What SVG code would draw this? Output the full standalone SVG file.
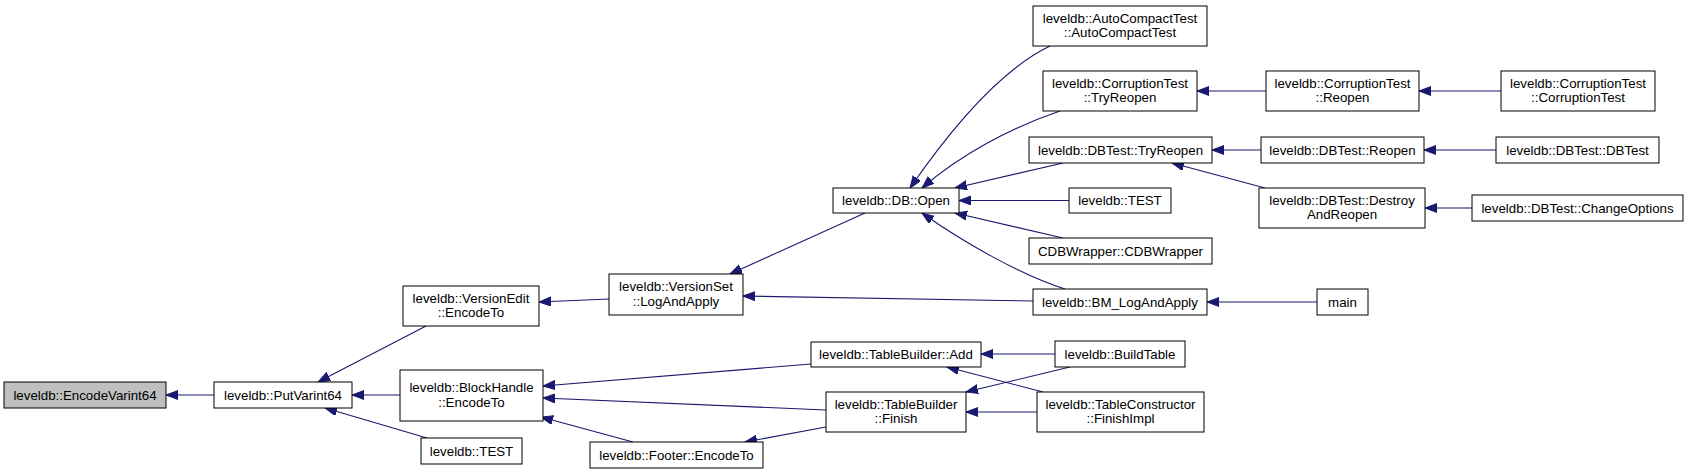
<svg xmlns="http://www.w3.org/2000/svg" width="1688" height="474" viewBox="0 0 1688 474">
<style>
.n rect{fill:#ffffff;stroke:#000000;stroke-width:1}
.n.root rect{fill:#bfbfbf}
.n text{font-family:"Liberation Sans",Arial,sans-serif;font-size:13.3px;fill:#000000;text-anchor:middle}
.e path{fill:none;stroke:#191970;stroke-width:1.1}
</style>
<defs>
<marker id="ah" markerUnits="userSpaceOnUse" markerWidth="13" markerHeight="10" refX="12" refY="4.5" orient="auto">
<path d="M0,0 L12,4.5 L0,9 z" fill="#191970" stroke="#191970" stroke-width="1"/>
</marker>
</defs>
<rect width="1688" height="474" fill="#ffffff"/>
<g id="connectors" class="e">
<path marker-end="url(#ah)" d="M214,395 L166,395"/>
<path marker-end="url(#ah)" d="M426,326 L318,382"/>
<path marker-end="url(#ah)" d="M400,395 L352,395"/>
<path marker-end="url(#ah)" d="M427,438 L325,408"/>
<path marker-end="url(#ah)" d="M609,299 L539,302"/>
<path marker-end="url(#ah)" d="M865,213 L730,274"/>
<path marker-end="url(#ah)" d="M1033,301 L743,296"/>
<path marker-end="url(#ah)" d="M1050,46 C1000,70 950,130 910,188"/>
<path marker-end="url(#ah)" d="M1060,111 C1010,128 960,155 922,188"/>
<path marker-end="url(#ah)" d="M1063,163 L955,188"/>
<path marker-end="url(#ah)" d="M1069,200.5 L959,200.5"/>
<path marker-end="url(#ah)" d="M1063,238 L955,213"/>
<path marker-end="url(#ah)" d="M1065,289 C1020,275 960,240 922,213"/>
<path marker-end="url(#ah)" d="M1266,91 L1197,91"/>
<path marker-end="url(#ah)" d="M1501,91 L1419,91"/>
<path marker-end="url(#ah)" d="M1261,150 L1212,150"/>
<path marker-end="url(#ah)" d="M1265,188 L1172,163"/>
<path marker-end="url(#ah)" d="M1496,150 L1424,150"/>
<path marker-end="url(#ah)" d="M1472,208 L1425,208"/>
<path marker-end="url(#ah)" d="M1317,302 L1207,302"/>
<path marker-end="url(#ah)" d="M811,364 L543,386"/>
<path marker-end="url(#ah)" d="M826,410 L543,398"/>
<path marker-end="url(#ah)" d="M633,442 L541,417"/>
<path marker-end="url(#ah)" d="M826,427 L745,442"/>
<path marker-end="url(#ah)" d="M1055,354 L981,354"/>
<path marker-end="url(#ah)" d="M1043,392 L947,367"/>
<path marker-end="url(#ah)" d="M1070,367 L966,392"/>
<path marker-end="url(#ah)" d="M1037,412 L966,412"/>
</g>
<g id="n_encodevarint64" class="n root"><rect x="4" y="382" width="162" height="26"/><text x="85" y="399.5">leveldb::EncodeVarint64</text></g>
<g id="n_putvarint64" class="n"><rect x="214" y="382" width="138" height="26"/><text x="283" y="399.5">leveldb::PutVarint64</text></g>
<g id="n_versionedit" class="n"><rect x="403" y="286" width="136" height="40"/><text x="471" y="302.5">leveldb::VersionEdit</text><text x="471" y="317">::EncodeTo</text></g>
<g id="n_blockhandle" class="n"><rect x="400" y="370" width="143" height="51"/><text x="471.5" y="392">leveldb::BlockHandle</text><text x="471.5" y="406.5">::EncodeTo</text></g>
<g id="n_test1" class="n"><rect x="421" y="438" width="101" height="26"/><text x="471.5" y="455.5">leveldb::TEST</text></g>
<g id="n_logandapply" class="n"><rect x="609" y="274" width="134" height="41"/><text x="676" y="291">leveldb::VersionSet</text><text x="676" y="305.5">::LogAndApply</text></g>
<g id="n_footer" class="n"><rect x="590" y="442" width="173" height="26"/><text x="676.5" y="459.5">leveldb::Footer::EncodeTo</text></g>
<g id="n_dbopen" class="n"><rect x="833" y="188" width="126" height="25"/><text x="896" y="205">leveldb::DB::Open</text></g>
<g id="n_add" class="n"><rect x="811" y="342" width="170" height="25"/><text x="896" y="359">leveldb::TableBuilder::Add</text></g>
<g id="n_finish" class="n"><rect x="826" y="392" width="140" height="40"/><text x="896" y="408.5">leveldb::TableBuilder</text><text x="896" y="423">::Finish</text></g>
<g id="n_autocompact" class="n"><rect x="1033" y="6" width="174" height="40"/><text x="1120" y="22.5">leveldb::AutoCompactTest</text><text x="1120" y="37">::AutoCompactTest</text></g>
<g id="n_ct_tryreopen" class="n"><rect x="1043" y="71" width="154" height="40"/><text x="1120" y="87.5">leveldb::CorruptionTest</text><text x="1120" y="102">::TryReopen</text></g>
<g id="n_dbt_tryreopen" class="n"><rect x="1029" y="137" width="183" height="26"/><text x="1120.5" y="154.5">leveldb::DBTest::TryReopen</text></g>
<g id="n_test2" class="n"><rect x="1069" y="188" width="102" height="25"/><text x="1120" y="205">leveldb::TEST</text></g>
<g id="n_cdbwrapper" class="n"><rect x="1029" y="238" width="183" height="26"/><text x="1120.5" y="255.5">CDBWrapper::CDBWrapper</text></g>
<g id="n_bm" class="n"><rect x="1033" y="289" width="174" height="26"/><text x="1120" y="306.5">leveldb::BM_LogAndApply</text></g>
<g id="n_buildtable" class="n"><rect x="1055" y="341" width="130" height="26"/><text x="1120" y="358.5">leveldb::BuildTable</text></g>
<g id="n_finishimpl" class="n"><rect x="1037" y="392" width="167" height="40"/><text x="1120.5" y="408.5">leveldb::TableConstructor</text><text x="1120.5" y="423">::FinishImpl</text></g>
<g id="n_ct_reopen" class="n"><rect x="1266" y="71" width="153" height="40"/><text x="1342.5" y="87.5">leveldb::CorruptionTest</text><text x="1342.5" y="102">::Reopen</text></g>
<g id="n_dbt_reopen" class="n"><rect x="1261" y="137" width="163" height="26"/><text x="1342.5" y="154.5">leveldb::DBTest::Reopen</text></g>
<g id="n_destroy" class="n"><rect x="1259" y="188" width="166" height="40"/><text x="1342" y="204.5">leveldb::DBTest::Destroy</text><text x="1342" y="219">AndReopen</text></g>
<g id="n_main" class="n"><rect x="1317" y="289" width="51" height="26"/><text x="1342.5" y="306.5">main</text></g>
<g id="n_ct_ct" class="n"><rect x="1501" y="71" width="154" height="40"/><text x="1578" y="87.5">leveldb::CorruptionTest</text><text x="1578" y="102">::CorruptionTest</text></g>
<g id="n_dbt_dbt" class="n"><rect x="1496" y="137" width="163" height="26"/><text x="1577.5" y="154.5">leveldb::DBTest::DBTest</text></g>
<g id="n_changeoptions" class="n"><rect x="1472" y="195" width="211" height="26"/><text x="1577.5" y="212.5">leveldb::DBTest::ChangeOptions</text></g>
</svg>
